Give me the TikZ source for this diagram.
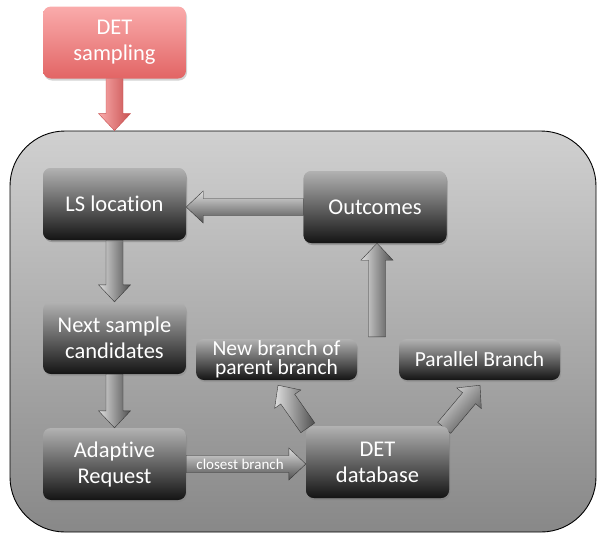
\documentclass[tikz,border=0pt]{standalone}
\usepackage{fontspec}
\setmainfont[Ligatures=NoCommon]{Carlito}
\usetikzlibrary{calc,shadows}
\definecolor{pinktop}{RGB}{250,172,172}
\definecolor{pinkbot}{RGB}{226,100,100}
\definecolor{pinkdark}{RGB}{200,80,80}
\definecolor{boxtop}{RGB}{178,178,178}
\definecolor{boxmid}{RGB}{88,88,88}
\definecolor{boxbot}{RGB}{20,20,20}
\definecolor{conttop}{RGB}{208,208,208}
\definecolor{contbot}{RGB}{136,136,136}
\definecolor{arrlight}{RGB}{222,222,222}
\definecolor{arrdark}{RGB}{80,80,80}
\newcommand{\fatarrow}[4]{%
  \coordinate (faC) at ($(#2)!17pt!(#1)$);
  \shade[#4, shading angle=#3]
    ($(#1)!8.5pt!90:(#2)$) -- ($(faC)!8.5pt!90:(#2)$) -- ($(faC)!16pt!90:(#2)$) -- (#2)
    -- ($(faC)!16pt!-90:(#2)$) -- ($(faC)!8.5pt!-90:(#2)$) -- ($(#1)!8.5pt!-90:(#2)$) -- cycle;
}
\tikzset{
  darkbox/.style={rounded corners=8pt, top color=boxtop, middle color=boxmid, bottom color=boxbot,
    text=white, font=\fontsize{22.5}{26}\selectfont, align=center, inner sep=0pt,
    minimum width=143, minimum height=72,
    drop shadow={opacity=0.35, shadow xshift=1pt, shadow yshift=-2pt}},
  thinbox/.style={darkbox, minimum width=161, minimum height=41, font=\fontsize{21.5}{19.5}\selectfont},
  pinkbox/.style={darkbox, top color=pinktop, middle color=pinktop!60!pinkbot, bottom color=pinkbot},
  container/.style={rounded corners=55pt, top color=conttop, bottom color=contbot, draw=black, line width=0.9pt,
    minimum width=586, minimum height=401, inner sep=0pt},
  grayarrow/.style={top color=arrlight, bottom color=arrdark, draw=arrdark!70!black, line width=0.4pt},
  pinkarrow/.style={top color=pinktop, bottom color=pinkdark, draw=pinkdark, line width=0.4pt},
  smalllabel/.style={text=white, font=\fontsize{15}{16}\selectfont, inner sep=0pt}
}
\begin{document}
\begin{tikzpicture}[x=1pt, y=-1pt]
\useasboundingbox (0,0) rectangle (599,542);
\node[container] (cont) at (303,331.5) {};
\node[pinkbox] (det) at (114.5,42.5) {DET\\sampling};
\node[darkbox] (ls) at (114.5,204) {LS location};
\node[darkbox] (out) at (375,207) {Outcomes};
\node[darkbox] (next) at (114.5,338) {Next sample\\candidates};
\node[darkbox] (ad) at (114.5,464) {Adaptive\\Request};
\node[darkbox] (db) at (377.5,462) {DET\\database};
\node[thinbox] (nb) at (276.5,359.5) {New branch of\\parent branch};
\node[thinbox] (pb) at (479.5,359.5) {Parallel Branch};
% connector end points
\coordinate (entry) at (det.south |- cont.north);
\coordinate (lsright) at (ls.east |- out.west);
\coordinate (dbleft) at (db.west |- ad.east);
\coordinate (nbtip) at ($(nb.south)+(1.5,5)$);
\coordinate (pbtip) at ($(pb.south)+(0.5,5)$);
\coordinate (dbnw) at ($(db.north west)+(2,2)$);
\coordinate (dbne) at ($(db.north east)+(-5,2)$);
\coordinate (upstart) at ($(out.south |- nb.north)+(2,-2)$);
\coordinate (outbot) at ($(out.south)+(2,0)$);
% connectors
\fatarrow{det.south}{entry}{90}{pinkarrow}
\fatarrow{out.west}{lsright}{0}{grayarrow}
\fatarrow{ls.south}{next.north}{90}{grayarrow}
\fatarrow{next.south}{ad.north}{90}{grayarrow}
\fatarrow{ad.east}{dbleft}{0}{grayarrow}
\fatarrow{dbnw}{nbtip}{90}{grayarrow}
\fatarrow{dbne}{pbtip}{48}{grayarrow}
\fatarrow{upstart}{outbot}{90}{grayarrow}
\path (ad.east) -- (dbleft) node[smalllabel, pos=0.45] (cb) {closest branch};
% redraw nodes on top of arrow tails
\node[darkbox] at (db) {DET\\database};
\node[darkbox] at (out) {Outcomes};
\node[darkbox] at (ls) {LS location};
\end{tikzpicture}
\end{document}
